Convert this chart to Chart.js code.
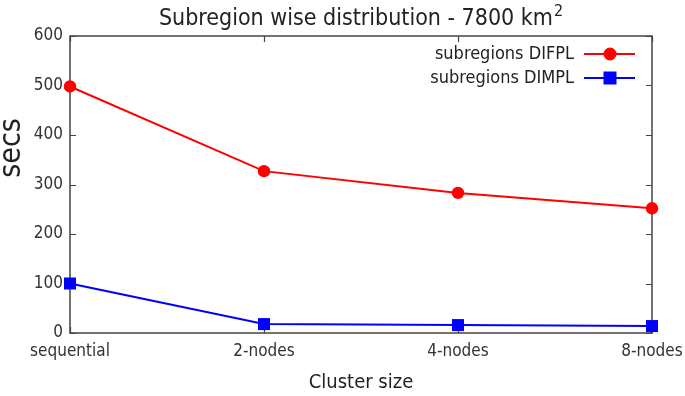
<!DOCTYPE html>
<html>
<head>
<meta charset="utf-8">
<script src="https://cdn.jsdelivr.net/npm/chart.js@4/dist/chart.umd.min.js"></script>
<style>
html,body{margin:0;padding:0;background:#fff;}
#wrap{width:685px;height:396px;position:relative;}
</style>
</head>
<body>
<div id="wrap"><canvas id="c" width="685" height="396"></canvas></div>
<script>
const categories = ["sequential", "2-nodes", "4-nodes", "8-nodes"];
const difplValues = [498, 327, 283, 252];
const dimplValues = [100, 18, 16, 14];
const yTicks = [0, 100, 200, 300, 400, 500, 600];
const seriesLabels = ["subregions DIFPL", "subregions DIMPL"];
const titleMain = "Subregion wise distribution - 7800 km";
const titleSup = "2";
const xTitle = "Cluster size";
const yTitle = "secs";

const FONT = "'DejaVu Sans Condensed', 'DejaVu Sans', sans-serif";
const TXT = "#333333";

const frameAndLegend = {
  id: 'frameAndLegend',
  beforeDatasetsDraw(chart) {
    const ctx = chart.ctx;
    const a = chart.chartArea;
    const xs = chart.scales.x, ys = chart.scales.y;
    ctx.save();
    ctx.strokeStyle = '#444';
    ctx.lineWidth = 1.5;
    ctx.strokeRect(a.left, a.top, a.right - a.left, a.bottom - a.top);
    ctx.lineWidth = 1.2;
    const tl = 6;
    yTicks.forEach(v => {
      const y = Math.round(ys.getPixelForValue(v)) + 0.5;
      ctx.beginPath();
      ctx.moveTo(a.left, y); ctx.lineTo(a.left + tl, y);
      ctx.moveTo(a.right, y); ctx.lineTo(a.right - tl, y);
      ctx.stroke();
    });
    categories.forEach((c, i) => {
      const x = Math.round(xs.getPixelForValue(i)) + 0.5;
      ctx.beginPath();
      ctx.moveTo(x, a.bottom); ctx.lineTo(x, a.bottom - tl);
      ctx.moveTo(x, a.top); ctx.lineTo(x, a.top + tl);
      ctx.stroke();
    });
    ctx.restore();
  },
  afterDraw(chart) {
    const ctx = chart.ctx;
    const a = chart.chartArea;
    ctx.save();
    // title with superscript
    ctx.fillStyle = '#222';
    ctx.textBaseline = 'alphabetic';
    ctx.textAlign = 'left';
    const mainFont = "23px " + FONT, supFont = "16px " + FONT;
    ctx.font = mainFont;
    const wMain = ctx.measureText(titleMain).width;
    ctx.font = supFont;
    const wSup = ctx.measureText(titleSup).width;
    const cx = (a.left + a.right) / 2;
    const x0 = cx - (wMain + wSup + 1) / 2;
    ctx.font = mainFont;
    ctx.fillText(titleMain, x0, 25);
    ctx.font = supFont;
    ctx.fillText(titleSup, x0 + wMain + 1, 16);

    // axis titles
    ctx.textAlign = 'center';
    ctx.textBaseline = 'middle';
    ctx.font = "20px " + FONT;
    ctx.fillStyle = '#222';
    ctx.fillText(xTitle, cx, 383);
    ctx.save();
    ctx.translate(12, 148);
    ctx.rotate(-Math.PI / 2);
    ctx.font = "30px " + FONT;
    ctx.fillText(yTitle, 0, 0);
    ctx.restore();

    // legend
    ctx.font = "18px " + FONT;
    ctx.textAlign = 'right';
    ctx.textBaseline = 'middle';
    const rows = [54, 78];
    chart.data.datasets.forEach((ds, i) => {
      const y = rows[i];
      ctx.fillStyle = '#222';
      ctx.fillText(ds.label, 574, y);
      ctx.strokeStyle = ds.borderColor;
      ctx.lineWidth = 2;
      ctx.beginPath();
      ctx.moveTo(584, y); ctx.lineTo(635, y);
      ctx.stroke();
      ctx.fillStyle = ds.borderColor;
      if (ds.pointStyle === 'circle') {
        ctx.beginPath(); ctx.arc(610, y, 6.5, 0, Math.PI * 2); ctx.fill();
      } else {
        ctx.fillRect(603.5, y - 6.5, 13, 13);
      }
    });
    ctx.restore();
  }
};

new Chart(document.getElementById('c'), {
  type: 'line',
  data: {
    labels: categories,
    datasets: [
      {
        label: seriesLabels[0], data: difplValues,
        borderColor: '#ff0000', backgroundColor: '#ff0000',
        borderWidth: 2, pointStyle: 'circle', pointRadius: 6.2, pointBorderWidth: 0,
        clip: false
      },
      {
        label: seriesLabels[1], data: dimplValues,
        borderColor: '#0000ff', backgroundColor: '#0000ff',
        borderWidth: 2, pointStyle: 'rect', pointRadius: 8.5, pointBorderWidth: 0,
        clip: false
      }
    ]
  },
  options: {
    responsive: false,
    animation: false,
    devicePixelRatio: 1,
    layout: { padding: { left: 0, right: 33, top: 36, bottom: 0 } },
    plugins: {
      legend: { display: false },
      tooltip: { enabled: false },
      title: { display: false }
    },
    scales: {
      x: {
        type: 'category', offset: false,
        grid: { display: false, drawTicks: false },
        border: { display: false },
        ticks: { color: TXT, font: { family: FONT, size: 17 }, padding: 8, maxRotation: 0, autoSkip: false },
        afterFit(s) { s.height = 63; s.paddingLeft = 0; s.paddingRight = 0; }
      },
      y: {
        min: 0, max: 600,
        grid: { display: false, drawTicks: false },
        border: { display: false },
        ticks: { stepSize: 100, color: TXT, font: { family: FONT, size: 17 }, padding: 7 },
        afterFit(s) { s.width = 70; s.paddingTop = 0; s.paddingBottom = 0; }
      }
    }
  },
  plugins: [frameAndLegend]
});
</script>
</body>
</html>
